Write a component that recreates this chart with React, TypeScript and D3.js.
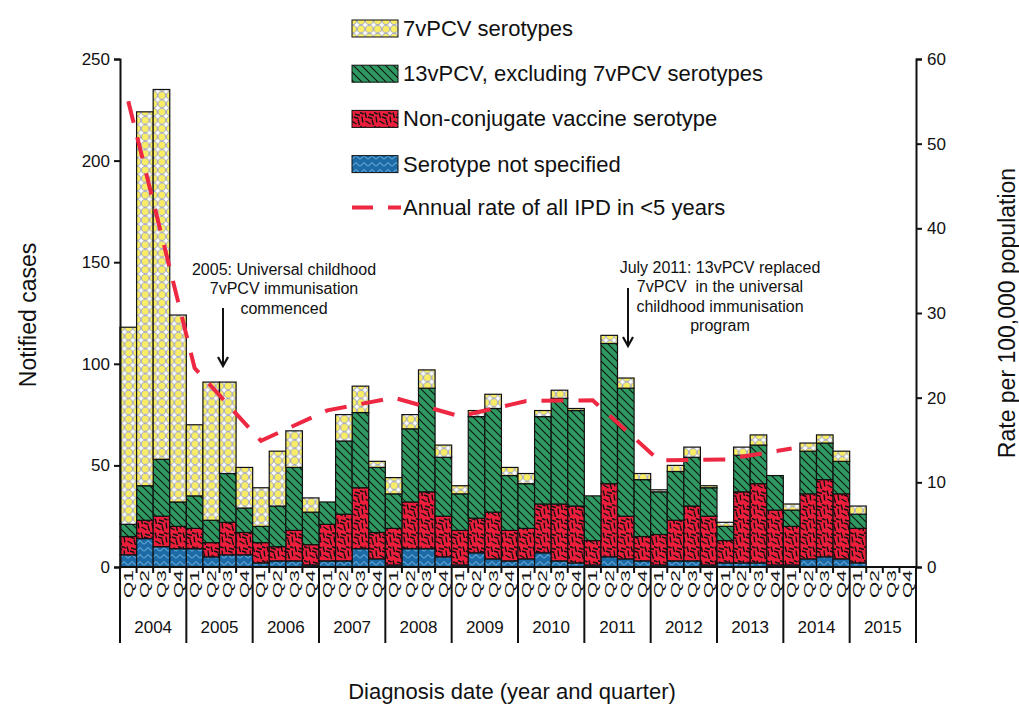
import React, { useEffect, useRef } from "react";
import * as d3 from "d3";

// quarterly notified cases, 2004 Q1 .. 2015 Q4
const years = ["2004", "2005", "2006", "2007", "2008", "2009", "2010", "2011", "2012", "2013", "2014", "2015"];
const quarters = ["Q1", "Q2", "Q3", "Q4"];

const pcv7 = [97, 184, 182, 92, 35, 68, 45, 20, 19, 27, 18, 7, 0, 13, 13, 3, 8, 7, 9, 6, 4, 3, 7, 4,
  5, 3, 4, 1, 0, 4, 5, 3, 1, 3, 5, 1, 2, 4, 5, 0, 3, 4, 4, 5, 4, 0, 0, 0];
const pcv13 = [6, 17, 28, 12, 16, 11, 24, 12, 8, 20, 31, 16, 11, 36, 37, 32, 17, 36, 51, 29, 18, 50, 51, 27,
  22, 43, 52, 47, 22, 69, 63, 28, 21, 24, 24, 14, 7, 18, 19, 17, 8, 21, 18, 16, 7, 0, 0, 0];
const nonConj = [9, 9, 15, 11, 10, 7, 16, 11, 10, 7, 15, 10, 18, 23, 30, 13, 18, 23, 28, 20, 17, 17, 23, 15,
  15, 24, 28, 28, 12, 36, 21, 12, 15, 20, 27, 24, 11, 35, 39, 27, 19, 32, 38, 32, 17, 0, 0, 0];
const notSpec = [6, 14, 10, 9, 9, 5, 6, 6, 2, 3, 3, 1, 3, 3, 9, 4, 1, 9, 9, 5, 1, 7, 4, 3,
  4, 7, 3, 2, 1, 5, 4, 3, 1, 3, 3, 1, 2, 2, 2, 1, 1, 4, 5, 4, 2, 0, 0, 0];

// annual rate of all IPD in <5 years (per 100,000)
const rateYears = ["2004", "2005", "2006", "2007", "2008", "2009", "2010", "2011", "2012", "2013", "2014"];
const annualRate = [55.0, 23.5, 14.9, 18.5, 20.0, 17.8, 19.6, 19.7, 12.6, 12.7, 14.0];

const leftTicks = [0, 50, 100, 150, 200, 250];
const rightTicks = [0, 10, 20, 30, 40, 50, 60];

const seriesKeys = ["notSpec", "nonConj", "pcv13", "pcv7"];
const legendLabels = ["7vPCV serotypes", "13vPCV, excluding 7vPCV serotypes", "Non-conjugate vaccine serotype", "Serotype not specified"];
const legendKeys = ["pcv7", "pcv13", "nonConj", "notSpec"];

const FONT = "Arial, 'Liberation Sans', Helvetica, sans-serif";

function addPatterns(defs) {
  // 7vPCV: yellow circles
  var p1 = defs.append("pattern").attr("id", "pat-pcv7").attr("patternUnits", "userSpaceOnUse")
    .attr("width", 8.3).attr("height", 8.3);
  p1.append("rect").attr("width", 8.3).attr("height", 8.3).attr("fill", "#ffffff");
  p1.append("circle").attr("cx", 4.15).attr("cy", 4.15).attr("r", 3.75)
    .attr("fill", "#f9ec66").attr("stroke", "#8c95c4").attr("stroke-width", 0.8);

  // 13vPCV: green with diagonal lines
  var p2 = defs.append("pattern").attr("id", "pat-pcv13").attr("patternUnits", "userSpaceOnUse")
    .attr("width", 8).attr("height", 8);
  p2.append("rect").attr("width", 8).attr("height", 8).attr("fill", "#2f9962");
  p2.append("path").attr("d", "M-2,-2 L10,10 M-2,6 L2,10 M6,-2 L10,2")
    .attr("stroke", "#111").attr("stroke-width", 1.1);

  // non-conjugate: red with black dashes
  var p3 = defs.append("pattern").attr("id", "pat-nonconj").attr("patternUnits", "userSpaceOnUse")
    .attr("width", 14).attr("height", 14);
  p3.append("rect").attr("width", 14).attr("height", 14).attr("fill", "#ec1e3c");
  var bits = [[1, 0.5, 2.5, 6], [5, 2, 10, 3.5], [12, 4.5, 12.8, 10.5], [1.5, 9, 6.5, 12],
    [8, 7.5, 9.5, 13], [4, 5, 8.5, 6.5], [10, 0.5, 13.5, 2]];
  bits.forEach(function (b) {
    p3.append("line").attr("x1", b[0]).attr("y1", b[1]).attr("x2", b[2]).attr("y2", b[3])
      .attr("stroke", "#111").attr("stroke-width", 1.4);
  });

  // not specified: blue zigzag
  var p4 = defs.append("pattern").attr("id", "pat-notspec").attr("patternUnits", "userSpaceOnUse")
    .attr("width", 8).attr("height", 7);
  p4.append("rect").attr("width", 8).attr("height", 7).attr("fill", "#1c6aa6");
  p4.append("polyline").attr("points", "0,5.5 4,1.5 8,5.5").attr("fill", "none")
    .attr("stroke", "#8ccaf2").attr("stroke-width", 0.9);
}

const patFor = { pcv7: "url(#pat-pcv7)", pcv13: "url(#pat-pcv13)", nonConj: "url(#pat-nonconj)", notSpec: "url(#pat-notspec)" };

function drawChart(node) {
  var svg = d3.select(node);
  svg.selectAll("*").remove();
  addPatterns(svg.append("defs"));

  var periods = [];
  years.forEach(function (y) { quarters.forEach(function (q) { periods.push(y + q); }); });

  var rows = periods.map(function (p, i) {
    return { period: p, pcv7: pcv7[i], pcv13: pcv13[i], nonConj: nonConj[i], notSpec: notSpec[i] };
  });

  var x = d3.scaleBand().domain(periods).range([120, 916]).padding(0);
  var yL = d3.scaleLinear().domain([0, 250]).range([567, 59]);
  var yR = d3.scaleLinear().domain([0, 60]).range([567, 59]);

  var stacked = d3.stack().keys(seriesKeys)(rows);

  // bars
  var g = svg.append("g");
  stacked.forEach(function (layer) {
    layer.forEach(function (d) {
      if (d[1] - d[0] <= 0) return;
      g.append("rect")
        .attr("x", x(d.data.period))
        .attr("y", yL(d[1]))
        .attr("width", x.bandwidth())
        .attr("height", yL(d[0]) - yL(d[1]))
        .attr("fill", patFor[layer.key])
        .attr("stroke", "#111")
        .attr("stroke-width", 1.2);
    });
  });

  // rate line
  var line = d3.line()
    .x(function (d) { return x(d.year + "Q1") + x.bandwidth() / 2; })
    .y(function (d) { return yR(d.rate); });
  svg.append("path")
    .datum(rateYears.map(function (y, i) { return { year: y, rate: annualRate[i] }; }))
    .attr("d", line)
    .attr("fill", "none")
    .attr("stroke", "#ee2842")
    .attr("stroke-width", 4)
    .attr("stroke-dasharray", "22,15");

  // left axis
  var left = svg.append("g").attr("transform", "translate(120,0)")
    .call(d3.axisLeft(yL).tickValues(leftTicks).tickSize(6).tickPadding(4));
  left.select(".domain").attr("stroke", "#111").attr("stroke-width", 2);
  left.selectAll(".tick line").attr("stroke", "#111").attr("stroke-width", 2);
  left.selectAll(".tick text").attr("font-size", 17).attr("font-family", FONT).attr("fill", "#111");

  // right axis
  var right = svg.append("g").attr("transform", "translate(916,0)")
    .call(d3.axisRight(yR).tickValues(rightTicks).tickSize(6).tickPadding(5));
  right.select(".domain").attr("stroke", "#111").attr("stroke-width", 2);
  right.selectAll(".tick line").attr("stroke", "#111").attr("stroke-width", 2);
  right.selectAll(".tick text").attr("font-size", 17).attr("font-family", FONT).attr("fill", "#111");

  // x axis: baseline, quarter ticks, year separators
  svg.append("line").attr("x1", 120).attr("x2", 916).attr("y1", 567).attr("y2", 567)
    .attr("stroke", "#111").attr("stroke-width", 2);
  periods.forEach(function (p, i) {
    var xx = x(p);
    var isYear = i % 4 === 0;
    svg.append("line").attr("x1", xx).attr("x2", xx).attr("y1", 567).attr("y2", isYear ? 643 : 573)
      .attr("stroke", "#111").attr("stroke-width", 2);
    svg.append("text")
      .attr("transform", "translate(" + (xx + x.bandwidth() / 2 + 4.5) + ",570) rotate(-90) scale(1.75,1)")
      .attr("text-anchor", "end")
      .attr("font-size", 12).attr("font-family", FONT).attr("fill", "#111")
      .text(quarters[i % 4]);
  });
  svg.append("line").attr("x1", 916).attr("x2", 916).attr("y1", 567).attr("y2", 643)
    .attr("stroke", "#111").attr("stroke-width", 2);
  years.forEach(function (y) {
    var x0 = x(y + "Q1"), x1 = x(y + "Q4") + x.bandwidth();
    svg.append("text").attr("x", (x0 + x1) / 2).attr("y", 633).attr("text-anchor", "middle")
      .attr("font-size", 17).attr("font-family", FONT).attr("fill", "#111").text(y);
  });

  // axis titles
  svg.append("text").attr("x", 512).attr("y", 699).attr("text-anchor", "middle")
    .attr("font-size", 22).attr("font-family", FONT).attr("fill", "#111")
    .text("Diagnosis date (year and quarter)");
  svg.append("text").attr("transform", "translate(36,315) rotate(-90)").attr("text-anchor", "middle")
    .attr("font-size", 23).attr("font-family", FONT).attr("fill", "#111").text("Notified cases");
  svg.append("text").attr("transform", "translate(1015,313) rotate(-90)").attr("text-anchor", "middle")
    .attr("font-size", 23).attr("font-family", FONT).attr("fill", "#111").text("Rate per 100,000 population");

  // annotations
  function note(lines, cx, y0, ax, ay0, ay1) {
    lines.forEach(function (t, i) {
      svg.append("text").attr("x", cx).attr("y", y0 + i * 19.3).attr("text-anchor", "middle")
        .attr("font-size", 16).attr("font-family", FONT).attr("fill", "#111")
        .style("white-space", "pre").text(t);
    });
    svg.append("line").attr("x1", ax).attr("x2", ax).attr("y1", ay0).attr("y2", ay1 - 2)
      .attr("stroke", "#111").attr("stroke-width", 2);
    svg.append("path").attr("d", "M" + (ax - 5) + "," + (ay1 - 9) + " L" + ax + "," + ay1 + " L" + (ax + 5) + "," + (ay1 - 9))
      .attr("fill", "none").attr("stroke", "#111").attr("stroke-width", 2.2);
  }
  note(["2005: Universal childhood", "7vPCV immunisation", "commenced"], 284, 275, 223, 308, 366);
  note(["July 2011: 13vPCV replaced", "7vPCV  in the universal", "childhood immunisation", "program"], 720, 273, 628, 288, 346);

  // legend
  var lg = svg.append("g");
  legendKeys.forEach(function (k, i) {
    var base = 36 + i * 45.2;
    lg.append("rect").attr("x", 352).attr("y", base - 16).attr("width", 46).attr("height", 17)
      .attr("fill", patFor[k]).attr("stroke", "#111").attr("stroke-width", 1);
    lg.append("text").attr("x", 403).attr("y", base).attr("font-size", 22).attr("font-family", FONT)
      .attr("fill", "#111").text(legendLabels[i]);
  });
  lg.append("line").attr("x1", 352).attr("x2", 401).attr("y1", 207.5).attr("y2", 207.5)
    .attr("stroke", "#ee2842").attr("stroke-width", 4).attr("stroke-dasharray", "21,15");
  lg.append("text").attr("x", 403).attr("y", 215).attr("font-size", 22).attr("font-family", FONT)
    .attr("fill", "#111").text("Annual rate of all IPD in <5 years");
}

export default function App() {
  const ref = useRef(null);
  useEffect(() => {
    drawChart(ref.current);
  }, []);
  return (
    <div style={{ position: "absolute", left: 0, top: 0 }}>
      <svg ref={ref} width={1019} height={704} style={{ display: "block", background: "#fff" }} />
    </div>
  );
}
